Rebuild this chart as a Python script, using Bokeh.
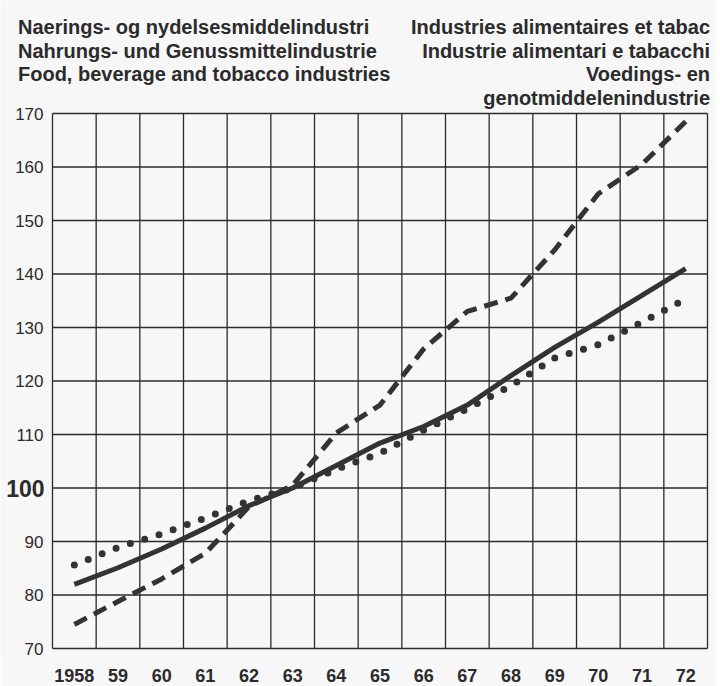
from bokeh.plotting import figure
from bokeh.models import FixedTicker, Range1d
from bokeh.core.properties import value
from bokeh.embed import file_html
from bokeh.resources import INLINE

years = list(range(1958, 1973))
year_labels = ["1958", "59", "60", "61", "62", "63", "64", "65", "66", "67", "68", "69", "70", "71", "72"]
y_ticks = [70, 80, 90, 100, 110, 120, 130, 140, 150, 160, 170]
y_tick_labels = ["70", "80", "90", "100", "110", "120", "130", "140", "150", "160", "170"]

# dashed series
dashed = [74.5, 78.8, 83.0, 87.8, 96.5, 100.5, 110.3, 115.5, 126.0, 133.0, 135.5, 144.5, 155.0, 160.5, 168.5]
# solid series
solid = [82.0, 85.1, 88.6, 92.5, 96.7, 100.0, 104.2, 108.4, 111.5, 115.5, 121.0, 126.3, 131.0, 136.0, 141.0]
# dotted series
dotted = [85.6, 88.9, 91.4, 94.4, 97.6, 100.0, 103.5, 106.5, 110.8, 114.8, 119.1, 124.3, 126.8, 131.0, 135.3]

title_left = ["Naerings- og nydelsesmiddelindustri",
              "Nahrungs- und Genussmittelindustrie",
              "Food, beverage and tobacco industries"]
title_right = ["Industries alimentaires et tabac",
               "Industrie alimentari e tabacchi",
               "Voedings- en",
               "genotmiddelenindustrie"]

BG = "#f7f7f7"
INK = "#2b2b2b"
LINE = "#333333"
FONT = "Liberation Sans"

# ---- geometry (pixels, page coordinates) ----
W, H = 716, 686
GRID_L, GRID_R = 52, 707        # x of first / last vertical grid line
GRID_T, GRID_B = 113, 648       # y of the 170 / 70 grid lines
FRAME_B = 656                   # bottom of the frame (axis labels below)
x0, x1 = years[0] - 0.5, years[-1] + 0.5
px_per_year = (GRID_R - GRID_L) / (x1 - x0)
px_per_unit = (GRID_B - GRID_T) / (y_ticks[-1] - y_ticks[0])
x_start = x0 - GRID_L / px_per_year
x_end = x1 + (W - GRID_R) / px_per_year
y_end = y_ticks[-1] + GRID_T / px_per_unit
y_start = y_ticks[0] - (FRAME_B - GRID_B) / px_per_unit

p = figure(width=W, height=H, output_backend="svg", toolbar_location=None,
           x_range=Range1d(x_start, x_end), y_range=Range1d(y_start, y_end),
           min_border_left=0, min_border_right=0, min_border_top=0,
           min_border_bottom=H - FRAME_B)
p.background_fill_color = BG
p.border_fill_color = BG
p.outline_line_color = None
p.yaxis.visible = False
p.xgrid.visible = False
p.ygrid.visible = False

# x axis (real axis, labels centred in each year column)
p.xaxis.ticker = FixedTicker(ticks=years)
p.xaxis.major_label_overrides = {y: l for y, l in zip(years, year_labels)}
p.xaxis.axis_line_color = None
p.xaxis.major_tick_line_color = None
p.xaxis.minor_tick_line_color = None
p.xaxis.major_label_text_font = FONT
p.xaxis.major_label_text_font_size = "18px"
p.xaxis.major_label_text_font_style = "bold"
p.xaxis.major_label_text_color = INK
p.xaxis.major_label_standoff = 6

# grid
edges = [y - 0.5 for y in years] + [x1]
p.segment(x0=edges, y0=[y_ticks[0]] * len(edges), x1=edges, y1=[y_ticks[-1]] * len(edges),
          line_color=INK, line_width=1.3)
p.segment(x0=[x0] * len(y_ticks), y0=y_ticks, x1=[x1] * len(y_ticks), y1=y_ticks,
          line_color=INK, line_width=1.3)

# y tick labels
normal = [i for i, t in enumerate(y_ticks) if t != 100]
p.text(x=[x0] * len(normal), y=[y_ticks[i] for i in normal], text=[y_tick_labels[i] for i in normal],
       x_offset=-9, text_align="right", text_baseline="middle",
       text_font=value(FONT), text_font_size="17px", text_color=INK)
p.text(x=[x0], y=[100], text=["100"], x_offset=-8, text_align="right", text_baseline="middle",
       text_font=value(FONT), text_font_size="23px", text_font_style="bold", text_color=INK)

# series
p.line(years, solid, line_color=LINE, line_width=5)
p.line(years, dashed, line_color=LINE, line_width=5, line_dash="14 8")
p.line(years, dotted, line_color=LINE, line_width=7, line_dash="0 15", line_cap="round")

# titles (baselines measured in px above the 170 line)
baselines_px = [86.3, 62.8, 39.4, 16.0]
yb = [y_ticks[-1] + b / px_per_unit for b in baselines_px]
left_x = x0 - 34.5 / px_per_year
right_x = x1 + 2.5 / px_per_year
p.text(x=[left_x] * len(title_left), y=yb[:len(title_left)], text=title_left,
       text_align="left", text_baseline="alphabetic",
       text_font=value(FONT), text_font_size="20px", text_font_style="bold", text_color=INK)
p.text(x=[right_x] * len(title_right), y=yb[:len(title_right)], text=title_right,
       text_align="right", text_baseline="alphabetic",
       text_font=value(FONT), text_font_size="20px", text_font_style="bold", text_color=INK)

open("out.html", "w").write(file_html(p, INLINE))
